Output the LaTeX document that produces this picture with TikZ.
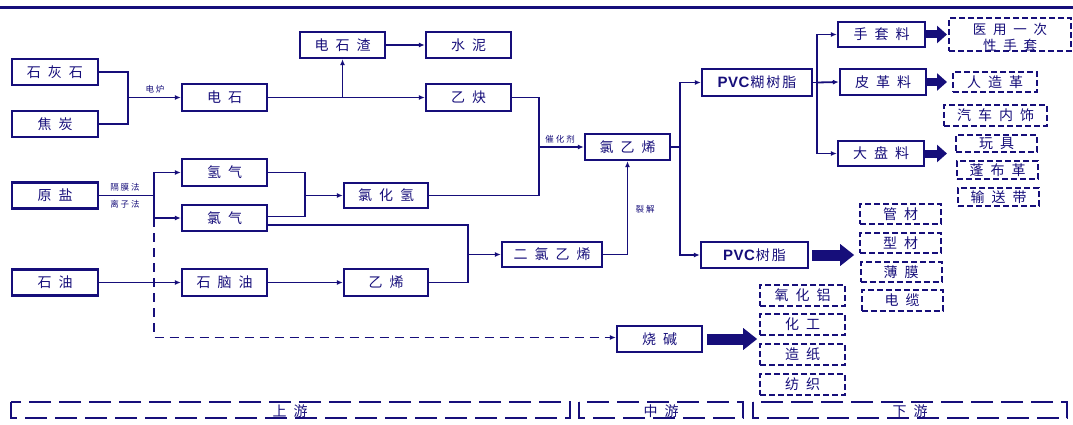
\documentclass[tikz,border=0pt]{standalone}
\usepackage{fontspec}
\setmainfont{Noto Sans CJK SC}
\newfontfamily\latf{Liberation Sans}
\usetikzlibrary{arrows.meta}
\definecolor{navy}{RGB}{22,14,122}
\def\gobbleone#1{}
\def\spc#1{\spcA#1\relax}
\def\spcA#1#2{#1\ifx\relax#2\expandafter\gobbleone\else\hspace{.5em}\expandafter\spcA\fi#2}
\def\pvct#1{{\latf\bfseries\fontsize{15}{16}\selectfont P\kern.5pt V\kern.5pt C}\hspace{1pt}#1}
\tikzset{
  box/.style={draw=navy, line width=2.4pt, text=navy, inner sep=0pt,
    font=\fontsize{14}{16}\selectfont},
  dbox/.style={box, line width=2pt, dash pattern=on 6pt off 3pt},
  conn/.style={draw=navy, line width=1.8pt},
  arr/.style={conn, -{Latex[length=6pt,width=5pt]}},
  dconn/.style={arr, dash pattern=on 9pt off 6pt},
  fat/.style={draw=navy, line width=8pt, -{Triangle[length=10pt,width=17pt]}},
  bigfat/.style={draw=navy, line width=11pt, -{Triangle[length=14pt,width=21pt]}},
  lbl/.style={text=navy, inner sep=0pt, font=\fontsize{8.5}{10}\selectfont},
  band/.style={draw=navy, line width=1.8pt, dash pattern=on 22pt off 8pt},
  bandlbl/.style={text=navy, inner sep=0pt, font=\fontsize{14}{16}\selectfont}
}
\begin{document}
\begin{tikzpicture}[x=1pt,y=-1pt]
\useasboundingbox (0,0) rectangle (1073,425);
\fill[navy] (0,6) rectangle (1073,9.5);
% upstream
\node[box, minimum width=86pt, minimum height=26pt] (sh) at (55,72) {\spc{石灰石}};
\node[box, minimum width=86pt, minimum height=26pt] (jt) at (55,124) {\spc{焦炭}};
\node[box, minimum width=86pt, minimum height=26pt] (yy) at (55,195.5) {\spc{原盐}};
\node[box, minimum width=86pt, minimum height=26pt] (sy) at (55,282.5) {\spc{石油}};
\node[box, minimum width=85pt, minimum height=27pt] (ds) at (224.5,97.5) {\spc{电石}};
\node[box, minimum width=85pt, minimum height=27pt] (qq) at (224.5,172.5) {\spc{氢气}};
\node[box, minimum width=85pt, minimum height=26pt] (lq) at (224.5,218) {\spc{氯气}};
\node[box, minimum width=85pt, minimum height=27pt] (snl) at (224.5,282.5) {\spc{石脑油}};
\node[box, minimum width=85pt, minimum height=26pt] (dsz) at (342.5,45) {\spc{电石渣}};
\node[box, minimum width=85pt, minimum height=26pt] (sn) at (468.5,45) {\spc{水泥}};
\node[box, minimum width=85pt, minimum height=27pt] (yq) at (468.5,97.5) {\spc{乙炔}};
\node[box, minimum width=84pt, minimum height=25pt] (lhq) at (386,195.5) {\spc{氯化氢}};
\node[box, minimum width=84pt, minimum height=27pt] (yx) at (386,282.5) {\spc{乙烯}};
\node[box, minimum width=100pt, minimum height=25pt] (elyx) at (552,254.5) {\spc{二氯乙烯}};
% midstream
\node[box, minimum width=85pt, minimum height=26pt] (lyx) at (627.5,147) {\spc{氯乙烯}};
\node[box, minimum width=85pt, minimum height=26pt] (sj) at (659.5,339) {\spc{烧碱}};
\node[box, minimum width=110pt, minimum height=27pt] (pvch) at (757,82.5) {\pvct{糊\hspace{2pt}树\hspace{2pt}脂}};
\node[box, minimum width=107pt, minimum height=26pt] (pvc) at (754.5,255) {\pvct{树\hspace{2pt}脂}};
\node[box, minimum width=87pt, minimum height=25pt] (stl) at (881.5,34.5) {\spc{手套料}};
\node[box, minimum width=86pt, minimum height=26pt] (pgl) at (883,82) {\spc{皮革料}};
\node[box, minimum width=86pt, minimum height=25pt] (dpl) at (881,153.5) {\spc{大盘料}};
% downstream
\node[dbox, minimum width=122pt, minimum height=33pt,
  font=\fontsize{13.5}{16}\selectfont] (yyst) at (1010,35)
  {\raisebox{-8pt}[0pt][0pt]{\begin{tabular}{@{}c@{}}\spc{医用一次}\\\spc{性手套}\end{tabular}}};
\node[dbox, minimum width=84pt, minimum height=20pt] (rzg) at (995,82) {\spc{人造革}};
\node[dbox, minimum width=103pt, minimum height=21pt] (qcns) at (995.5,115.5) {\spc{汽车内饰}};
\node[dbox, minimum width=81pt, minimum height=17pt] (wj) at (996.5,143.5) {\spc{玩具}};
\node[dbox, minimum width=81pt, minimum height=18pt] (pbg) at (997.5,170) {\spc{蓬布革}};
\node[dbox, minimum width=81pt, minimum height=18pt] (ssd) at (998.5,197) {\spc{输送带}};
\node[dbox, minimum width=81pt, minimum height=20pt] (gc) at (900.5,214) {\spc{管材}};
\node[dbox, minimum width=81pt, minimum height=20pt] (xc) at (900.5,243) {\spc{型材}};
\node[dbox, minimum width=81pt, minimum height=20pt] (bm) at (901,272) {\spc{薄膜}};
\node[dbox, minimum width=81pt, minimum height=21pt] (dl) at (902,300.5) {\spc{电缆}};
\node[dbox, minimum width=85pt, minimum height=21pt] (yhl) at (802.5,295.5) {\spc{氧化铝}};
\node[dbox, minimum width=85pt, minimum height=21pt] (hg) at (802.5,324.5) {\spc{化工}};
\node[dbox, minimum width=85pt, minimum height=21pt] (zz) at (802.5,354.5) {\spc{造纸}};
\node[dbox, minimum width=85pt, minimum height=21pt] (fz) at (802.5,384) {\spc{纺织}};
% junctions
\coordinate (j1) at (128,97.5);
\coordinate (j3) at (154,195.5);
\coordinate (j4) at (305,195.5);
\coordinate (j2) at (539,147);
\coordinate (j5) at (468,254.5);
\coordinate (j6) at (680,147);
\coordinate (j7) at (817,82.5);
\coordinate (fe) at (947,0);
% connectors
\draw[conn] (sh.east) -| (j1) |- (jt.east);
\draw[arr] (j1) -- (ds.west);
\node[lbl] (ldl) at (155,89.5) {电\hspace{2pt}炉};
\draw[arr] (ds.east) -- (yq.west);
\draw[arr] (dsz.south |- ds.east) -- (dsz.south);
\draw[arr] (dsz.east) -- (sn.west);
\draw[conn] (yq.east) -| (j2) |- (lhq.east);
\draw[arr] (j2) -- (lyx.west);
\node[lbl] (lch) at (560,139) {催\hspace{2pt}化\hspace{2pt}剂};
\draw[conn] (yy.east) -- (j3);
\draw[arr] (j3) |- (qq.west);
\draw[arr] (j3) |- (lq.west);
\node[lbl] (lgm) at (125,187) {隔\hspace{2pt}膜\hspace{2pt}法};
\node[lbl] (llz) at (125,204) {离\hspace{2pt}子\hspace{2pt}法};
\draw[conn] (qq.east) -| (j4) |- ([yshift=1.5pt]lq.east);
\draw[arr] (j4) -- (lhq.west);
\draw[conn] ([yshift=-7pt]lq.east) -| (j5) |- (yx.east);
\draw[arr] (j5) -- (elyx.west);
\draw[arr] (elyx.east) -| (lyx.south);
\node[lbl] (llj) at (645,209) {裂\hspace{2pt}解};
\draw[arr] (sy.east) -- (snl.west);
\draw[arr] (snl.east) -- (yx.west);
\draw[dconn] (j3 |- lq.west) |- ([yshift=1.5pt]sj.west);
\draw[conn] (lyx.east) -- (j6);
\draw[arr] (j6) |- (pvch.west);
\draw[arr] (j6) |- (pvc.west);
\draw[conn] (pvch.east) -- (j7);
\draw[arr] (j7) |- (stl.west);
\draw[arr] (j7) -- (pgl.west);
\draw[arr] (j7) |- (dpl.west);
\draw[fat] (stl.east) -- (stl.east -| fe);
\draw[fat] (pgl.east) -- (pgl.east -| fe);
\draw[fat] (dpl.east) -- (dpl.east -| fe);
\draw[bigfat] ([xshift=3pt]pvc.east) -- ([xshift=45pt]pvc.east);
\draw[bigfat] ([xshift=4pt]sj.east) -- ([xshift=54pt]sj.east);
% bands
\draw[band] (11,402) rectangle (570,418);
\draw[band] (579,402) rectangle (743,418);
\draw[band] (753,402) rectangle (1067,418);
\node[bandlbl] (up) at (290,411) {\spc{上游}};
\node[bandlbl] (mid) at (661,411) {\spc{中游}};
\node[bandlbl] (down) at (910,411) {\spc{下游}};
\end{tikzpicture}
\end{document}
